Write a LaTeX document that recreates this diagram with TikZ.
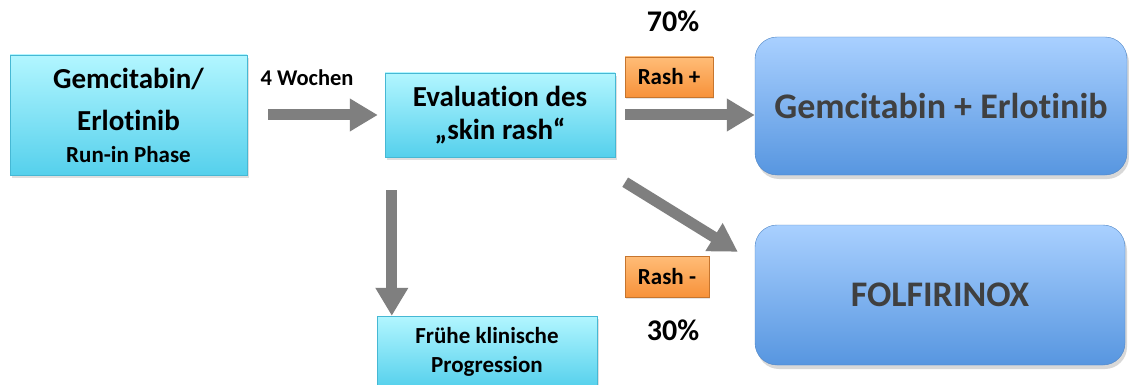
\documentclass[tikz,border=0pt]{standalone}
\usepackage{fontspec}
\setmainfont{Carlito}[Ligatures=NoCommon]
\usetikzlibrary{arrows.meta, shadows}
\definecolor{cyantop}{HTML}{B2F6FF}
\definecolor{cyanbot}{HTML}{55D0EC}
\definecolor{cyanline}{HTML}{46B8D4}
\definecolor{orangetop}{HTML}{FFBC77}
\definecolor{orangebot}{HTML}{F7923A}
\definecolor{bluetop}{HTML}{A9D0FF}
\definecolor{bluebot}{HTML}{5796E0}
\definecolor{blueline}{HTML}{4F86C6}
\definecolor{arrowgray}{HTML}{7F7F7F}
\definecolor{darktext}{HTML}{404040}
\tikzset{
  cyan box/.style={
    draw=cyanline,
    top color=cyantop,
    bottom color=cyanbot,
    drop shadow={opacity=0.25, shadow xshift=2pt, shadow yshift=-3pt},
    align=center,
    inner sep=0pt,
  },
  rash box/.style={
    draw=orangebot!80!black,
    top color=orangetop,
    bottom color=orangebot,
    drop shadow={opacity=0.2, shadow xshift=1pt, shadow yshift=-2pt},
    font=\bfseries\fontsize{23}{26}\selectfont,
    inner sep=0pt,
  },
  arm box/.style={
    rounded corners=22pt,
    draw=blueline,
    top color=bluetop,
    bottom color=bluebot,
    drop shadow={opacity=0.3, shadow xshift=2pt, shadow yshift=-4pt},
    text=darktext,
    font=\bfseries\fontsize{36}{40}\selectfont,
    inner sep=0pt,
  },
  flow arrow/.style={
    draw=arrowgray,
    line width=11pt,
    -{Triangle[width=31pt, length=28pt]},
  },
  share/.style={font=\bfseries\fontsize{30}{34}\selectfont},
}

\begin{document}
\begin{tikzpicture}[x=1pt, y=-1pt]
  \clip (0,0) rectangle (1129,385);
  \fill[white] (0,0) rectangle (1129,385);

  \node[cyan box, minimum width=237pt, minimum height=120pt,
        font=\bfseries\fontsize{29}{42}\selectfont] (runin) at (128.5,115)
    {Gemcitabin/\\Erlotinib\\[-10pt]\fontsize{23}{28}\selectfont Run-in Phase};
  \node[cyan box, minimum width=230pt, minimum height=84pt,
        font=\bfseries\fontsize{29}{33}\selectfont] (eval) at (500,115)
    {Evaluation des\\„skin rash“};
  \node[cyan box, minimum width=220pt, minimum height=72pt,
        font=\bfseries\fontsize{23}{29}\selectfont] (early) at (487,352)
    {Frühe klinische\\Progression};

  \node[rash box, minimum width=88pt, minimum height=40pt] (rashpos) at (669,77) {Rash +};
  \node[rash box, minimum width=84pt, minimum height=41pt] (rashneg) at (667,276.5) {Rash -};

  \node[arm box, minimum width=372pt, minimum height=138pt] (gemerl) at (941,106) {Gemcitabin + Erlotinib};
  \node[arm box, minimum width=370pt, minimum height=140pt] (folf) at (940,295) {FOLFIRINOX};

  \node[font=\bfseries\fontsize{22.5}{26}\selectfont] (weeks) at (307,78) {4 Wochen};
  \node[share] (pos) at (673,21) {70\%};
  \node[share] (neg) at (673,330) {30\%};

  \draw[flow arrow, shorten <=21pt, shorten >=7pt] (runin.east) -- (eval.west);
  \draw[flow arrow, shorten <=10pt] (eval.east) -- (eval.east -| gemerl.west);
  \draw[flow arrow, shorten <=33pt] ([xshift=7pt]eval.south west) -- ([xshift=7pt]eval.south west |- early.north);
  \draw[flow arrow] ([xshift=10pt, yshift=-25pt]eval.south east) -- ([xshift=-17pt, yshift=-27pt]folf.north west);
\end{tikzpicture}
\end{document}
